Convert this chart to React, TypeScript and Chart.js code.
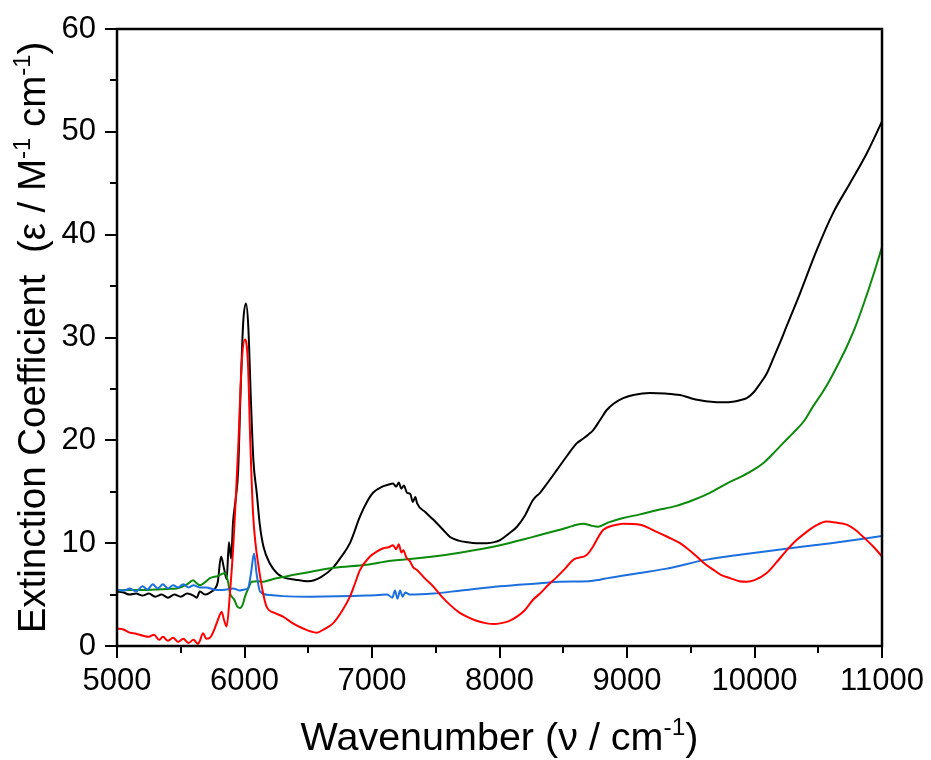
import React, { useEffect, useRef } from 'react';
import { Chart, registerables } from 'chart.js';

Chart.register(...registerables);

const FONT = '"Liberation Sans", Arial, Helvetica, sans-serif';

// Axis ranges and tick values
const xMin = 5000;
const xMax = 11000;
const yMin = 0;
const yMax = 60;
const xMajorStep = 1000;
const xMinorStep = 500;
const yMajorStep = 10;
const yMinorStep = 5;

// Axis titles (superscript parts marked as separate segments)
const xTitleParts: [string, boolean][] = [['Wavenumber (\u03bd / cm', false], ['-1', true], [')', false]];
const yTitleParts: [string, boolean][] = [
  ['Extinction Coefficient  (\u03b5 / M', false],
  ['-1', true],
  [' cm', false],
  ['-1', true],
  [')', false],
];

// Black series
const blackWavenumber = [
  5000, 5050, 5100, 5150, 5200, 5250, 5300, 5350, 5400, 5450, 5500, 5550, 5600, 5625, 5650, 5690, 5730,
  5770, 5790, 5816, 5840, 5860, 5878, 5895, 5910, 5933, 5950, 5970, 5990, 6012, 6030, 6050, 6070, 6096,
  6120, 6148, 6200, 6253, 6300, 6400, 6500, 6600, 6700, 6760, 6827, 6906, 6960, 7008, 7080, 7130, 7165,
  7190, 7210, 7230, 7250, 7275, 7300, 7320, 7340, 7353, 7420, 7480, 7550, 7612, 7680, 7743, 7820, 7900,
  7960, 8004, 8070, 8137, 8200, 8263, 8318, 8373, 8449, 8530, 8605, 8660, 8700, 8735, 8790, 8841, 8900,
  8970, 9050, 9180, 9300, 9416, 9500, 9573, 9660, 9753, 9830, 9886, 9939, 9988, 10043, 10096, 10145,
  10200, 10252, 10357, 10488, 10616, 10749, 10880, 11000,
];
const blackEpsilon = [
  5.3, 5.2, 5.0, 5.1, 4.9, 5.1, 4.8, 5.0, 4.7, 5.0, 4.8, 5.1, 4.9, 4.7, 5.3, 5.0, 5.2,
  5.6, 6.2, 8.7, 7.5, 6.5, 10.1, 8.5, 12.0, 14.5, 17.0, 25.0, 31.5, 33.3, 31.0, 24.0, 18.0, 14.9,
  11.8, 9.7, 8.0, 7.1, 6.7, 6.45, 6.3, 6.7, 7.7, 8.7, 10.0, 12.6, 14.0, 14.9, 15.5, 15.7, 15.8,
  15.5, 15.9, 15.3, 15.6, 14.9, 14.8, 14.0, 14.5, 13.9, 13.0, 12.3, 11.4, 10.6, 10.25, 10.1, 10.0, 10.0,
  10.1, 10.3, 10.9, 11.6, 12.7, 14.2, 14.9, 15.8, 17.1, 18.5, 19.7, 20.2, 20.6, 21.0, 22.0, 22.95, 23.6,
  24.1, 24.4, 24.6, 24.55, 24.4, 24.1, 23.9, 23.75, 23.7, 23.75, 23.9, 24.1, 24.6, 25.5, 26.5, 27.9,
  29.5, 31.1, 34.3, 38.5, 42.1, 45.0, 47.9, 51.0,
];

// Green series
const greenWavenumber = [
  5000, 5100, 5204, 5300, 5400, 5468, 5550, 5596, 5625, 5651, 5690, 5729, 5790, 5847, 5870, 5886, 5920,
  5945, 5965, 5985, 6004, 6030, 6056, 6100, 6148, 6220, 6302, 6400, 6514, 6700, 6958, 7150, 7300, 7480,
  7700, 8004, 8200, 8318, 8475, 8580, 8658, 8720, 8775, 8850, 8970, 9102, 9233, 9380, 9520, 9650, 9782,
  9900, 9988, 10070, 10145, 10230, 10302, 10396, 10459, 10530, 10592, 10660, 10720, 10790, 10860, 10930,
  11000,
];
const greenEpsilon = [
  5.4, 5.45, 5.45, 5.5, 5.55, 5.6, 6.0, 6.4, 6.1, 5.9, 6.2, 6.6, 6.8, 7.1, 6.3, 5.15, 4.5,
  3.8, 3.7, 4.0, 4.8, 5.6, 6.25, 6.3, 6.25, 6.5, 6.7, 6.95, 7.2, 7.6, 7.9, 8.3, 8.45, 8.7,
  9.1, 9.8, 10.4, 10.8, 11.3, 11.7, 11.9, 11.7, 11.6, 12.0, 12.45, 12.8, 13.2, 13.6, 14.2, 14.9, 15.8,
  16.5, 17.1, 17.8, 18.7, 19.8, 20.7, 22.0, 23.3, 24.6, 25.9, 27.5, 29.0, 31.0, 33.4, 36.0,
  38.8,
];

// Blue series
const blueWavenumber = [
  5000, 5060, 5100, 5150, 5200, 5240, 5280, 5320, 5360, 5400, 5440, 5480, 5520, 5560, 5600, 5650, 5700,
  5760, 5808, 5860, 5910, 5960, 6000, 6027, 6050, 6075, 6095, 6122, 6200, 6300, 6514, 6958, 7120, 7160,
  7180, 7200, 7220, 7240, 7260, 7300, 7480, 7700, 8004, 8318, 8475, 8700, 8788, 8850, 9102, 9300, 9625,
  9900, 10278, 10600, 11000,
];
const blueEpsilon = [
  5.45, 5.4, 5.6, 5.3, 5.8, 5.5, 6.0, 5.6, 6.0, 5.6, 5.9, 5.7, 6.0, 5.7, 5.9, 5.7, 5.7,
  5.5, 5.45, 5.5, 5.6, 5.4, 5.5, 5.6, 7.0, 9.0, 7.0, 5.3, 4.95, 4.85, 4.8, 4.9, 5.0, 4.7,
  5.4, 4.6, 5.4, 4.8, 5.2, 5.0, 5.1, 5.4, 5.8, 6.1, 6.25, 6.3, 6.45, 6.6, 7.1, 7.5, 8.4,
  8.9, 9.5, 10.0, 10.7,
];

// Red series
const redWavenumber = [
  5000, 5050, 5100, 5150, 5204, 5250, 5290, 5330, 5360, 5400, 5440, 5480, 5520, 5560, 5600, 5635, 5650,
  5675, 5700, 5729, 5760, 5790, 5821, 5840, 5860, 5886, 5912, 5930, 5951, 5978, 6004, 6027, 6045, 6067,
  6086, 6106, 6140, 6174, 6240, 6302, 6380, 6459, 6566, 6620, 6694, 6760, 6827, 6870, 6906, 6984, 7040,
  7088, 7130, 7165, 7190, 7210, 7230, 7245, 7270, 7300, 7320, 7353, 7420, 7480, 7540, 7612, 7680, 7743,
  7820, 7900, 7960, 8004, 8070, 8137, 8200, 8263, 8318, 8380, 8449, 8520, 8580, 8684, 8735, 8780, 8815,
  8900, 8970, 9102, 9233, 9320, 9416, 9480, 9547, 9610, 9678, 9740, 9808, 9880, 9939, 10000, 10096,
  10170, 10252, 10330, 10409, 10480, 10566, 10640, 10723, 10790, 10853, 10929, 10990, 11000,
];
const redEpsilon = [
  1.7, 1.6, 1.3, 1.2, 1.0, 0.9, 1.1, 0.6, 0.9, 0.5, 0.8, 0.4, 0.7, 0.3, 0.6, 0.2, 0.5,
  1.25, 0.7, 0.8, 1.5, 2.5, 3.3, 2.5, 1.9, 5.15, 9.7, 14.0, 19.4, 27.5, 29.8, 27.5, 20.0, 12.9,
  10.0, 8.1, 5.5, 3.8, 3.2, 2.85, 2.2, 1.7, 1.3, 1.6, 2.2, 3.3, 4.8, 6.2, 7.4, 8.7, 9.2,
  9.5, 9.6, 9.8, 9.4, 9.9, 9.1, 9.3, 8.6, 8.2, 7.7, 7.4, 6.5, 5.8, 4.9, 4.0, 3.3, 2.85,
  2.45, 2.2, 2.15, 2.2, 2.4, 2.85, 3.5, 4.5, 5.1, 5.9, 6.7, 7.6, 8.4, 8.85, 9.7, 10.7, 11.3,
  11.75, 11.9, 11.8, 11.1, 10.6, 10.0, 9.4, 8.7, 8.0, 7.4, 6.9, 6.6, 6.3, 6.25, 6.4, 7.1,
  8.1, 9.3, 10.3, 11.1, 11.7, 12.1, 12.0, 11.8, 11.3, 10.6, 9.7, 8.85, 8.7,
];

const seriesColors = {
  black: '#000000',
  green: '#0b8a0b',
  blue: '#1c6fdc',
  red: '#ff0000',
};

const toPoints = (xs: number[], ys: number[]) => xs.map((x, i) => ({ x, y: ys[i] }));

function drawParts(ctx: CanvasRenderingContext2D, parts: [string, boolean][], size: number, cx: number, baseY: number) {
  const supSize = size * 0.62;
  const widths = parts.map(([t, sup]) => {
    ctx.font = `${sup ? supSize : size}px ${FONT}`;
    return ctx.measureText(t).width;
  });
  const total = widths.reduce((a, b) => a + b, 0);
  let x = cx - total / 2;
  ctx.textBaseline = 'alphabetic';
  ctx.textAlign = 'left';
  parts.forEach(([t, sup], i) => {
    ctx.font = `${sup ? supSize : size}px ${FONT}`;
    ctx.fillText(t, x, sup ? baseY - size * 0.38 : baseY);
    x += widths[i];
  });
}

const framePlugin = {
  id: 'frameTicksTitles',
  afterDraw(chart: any) {
    const { ctx, chartArea: a, scales } = chart;
    const xs = scales.x;
    const ys = scales.y;
    ctx.save();
    ctx.strokeStyle = '#000';
    ctx.fillStyle = '#000';
    ctx.lineWidth = 2;
    ctx.beginPath();
    for (let v = xMin; v <= xMax; v += xMinorStep) {
      const px = Math.round(xs.getPixelForValue(v));
      const len = v % xMajorStep === 0 ? 12 : 7;
      ctx.moveTo(px, a.bottom);
      ctx.lineTo(px, a.bottom + len);
    }
    for (let v = yMin; v <= yMax; v += yMinorStep) {
      const py = Math.round(ys.getPixelForValue(v));
      const len = v % yMajorStep === 0 ? 12 : 7;
      ctx.moveTo(a.left - len, py);
      ctx.lineTo(a.left, py);
    }
    ctx.stroke();
    ctx.lineWidth = 2.5;
    ctx.strokeRect(a.left, a.top, a.right - a.left, a.bottom - a.top);

    // X title
    drawParts(ctx, xTitleParts, 39.5, (a.left + a.right) / 2, 750);
    // Y title
    ctx.save();
    ctx.translate(45, (a.top + a.bottom) / 2);
    ctx.rotate(-Math.PI / 2);
    drawParts(ctx, yTitleParts, 38.5, 0, 0);
    ctx.restore();
    ctx.restore();
  },
};

const zeroPadding = (scale: any) => {
  scale.paddingTop = 0;
  scale.paddingBottom = 0;
  scale.paddingLeft = 0;
  scale.paddingRight = 0;
};

export default function App() {
  const canvasRef = useRef<HTMLCanvasElement | null>(null);

  useEffect(() => {
    const canvas = canvasRef.current;
    if (!canvas) return;
    const common = {
      showLine: true,
      pointRadius: 0,
      borderWidth: 2,
      fill: false,
      cubicInterpolationMode: 'monotone' as const,
    };
    const chart = new Chart(canvas, {
      type: 'scatter',
      data: {
        datasets: [
          { ...common, label: 'red', data: toPoints(redWavenumber, redEpsilon), borderColor: seriesColors.red },
          { ...common, label: 'blue', data: toPoints(blueWavenumber, blueEpsilon), borderColor: seriesColors.blue },
          { ...common, label: 'green', data: toPoints(greenWavenumber, greenEpsilon), borderColor: seriesColors.green },
          { ...common, label: 'black', data: toPoints(blackWavenumber, blackEpsilon), borderColor: seriesColors.black },
        ],
      },
      options: {
        responsive: false,
        animation: false,
        devicePixelRatio: 1,
        layout: { padding: { top: 29, right: 49, bottom: 0, left: 0 } },
        plugins: { legend: { display: false }, tooltip: { enabled: false } },
        scales: {
          x: {
            type: 'linear',
            min: xMin,
            max: xMax,
            grid: { display: false, drawTicks: false },
            border: { display: false },
            ticks: {
              stepSize: xMajorStep,
              padding: 17,
              color: '#000',
              font: { family: FONT, size: 31 },
              maxRotation: 0,
              callback: (v: any) => String(v),
            },
            afterFit: (scale: any) => {
              scale.height = 114;
              zeroPadding(scale);
            },
          },
          y: {
            type: 'linear',
            min: yMin,
            max: yMax,
            grid: { display: false, drawTicks: false },
            border: { display: false },
            ticks: {
              stepSize: yMajorStep,
              padding: 21,
              color: '#000',
              font: { family: FONT, size: 31 },
              callback: (v: any) => String(v),
            },
            afterFit: (scale: any) => {
              scale.width = 117;
              zeroPadding(scale);
            },
          },
        },
      },
      plugins: [framePlugin],
    });
    return () => chart.destroy();
  }, []);

  return (
    <canvas
      ref={canvasRef}
      width={931}
      height={760}
      style={{ position: 'fixed', left: 0, top: 0, width: 931, height: 760, display: 'block', background: '#fff' }}
    />
  );
}
